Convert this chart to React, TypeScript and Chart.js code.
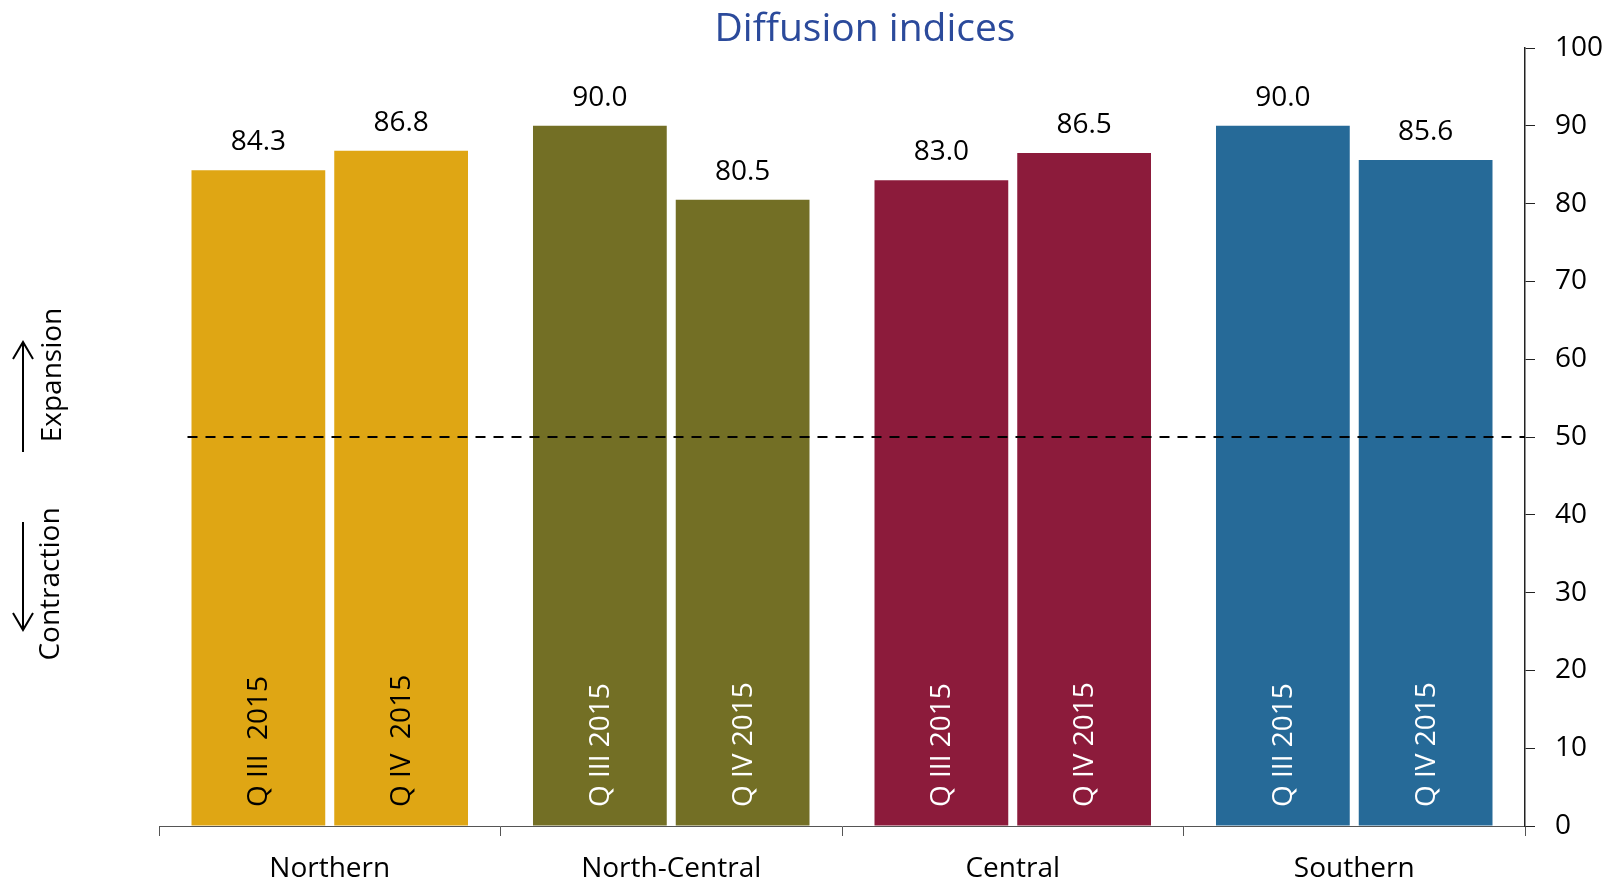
import React, { useEffect, useRef } from "react";
import { Chart, registerables } from "chart.js";

Chart.register(...registerables);

const categories = ["Northern", "North-Central", "Central", "Southern"];
const q3Values = [84.3, 90.0, 83.0, 90.0];
const q4Values = [86.8, 80.5, 86.5, 85.6];
const q3Labels = ["Q III  2015", "Q III 2015", "Q III 2015", "Q III 2015"];
const q4Labels = ["Q IV  2015", "Q IV 2015", "Q IV 2015", "Q IV 2015"];
const regionColors = ["#DFA614", "#736F25", "#8C1B3B", "#266A98"];
const innerTextColors = ["#000000", "#FFFFFF", "#FFFFFF", "#FFFFFF"];
const seriesNames = ["Q III 2015", "Q IV 2015"];
const yMin = 0;
const yMax = 100;
const yStep = 10;
const threshold = 50;
const titleText = "Diffusion indices";
const upLabel = "Expansion";
const downLabel = "Contraction";

const FONT = "'Open Sans', 'Noto Sans', sans-serif";

const annotatePlugin = {
  id: "annotate",
  afterDatasetsDraw(chart: any) {
    const ctx = chart.ctx;
    const yScale = chart.scales.y;
    const area = chart.chartArea;
    const innerLabels = [q3Labels, q4Labels];
    // threshold dashed line
    const m0 = chart.getDatasetMeta(0);
    const first = m0.data[0];
    const startX = first.x - first.width / 2 - 4;
    const yT = Math.round(yScale.getPixelForValue(threshold));
    ctx.save();
    ctx.strokeStyle = "#000";
    ctx.lineWidth = 2;
    ctx.setLineDash([10, 8]);
    ctx.beginPath();
    ctx.moveTo(startX, yT);
    ctx.lineTo(area.right, yT);
    ctx.stroke();
    ctx.restore();

    chart.data.datasets.forEach((ds: any, di: number) => {
      const meta = chart.getDatasetMeta(di);
      meta.data.forEach((bar: any, i: number) => {
        const v = ds.data[i];
        // value label
        ctx.save();
        ctx.font = `28px ${FONT}`;
        ctx.fillStyle = "#000";
        ctx.textAlign = "center";
        ctx.textBaseline = "alphabetic";
        ctx.fillText(v.toFixed(1), bar.x, bar.y - 20);
        ctx.restore();
        // inner rotated label
        ctx.save();
        ctx.translate(bar.x + 1, area.bottom - 19);
        ctx.rotate(-Math.PI / 2);
        ctx.font = `28px ${FONT}`;
        ctx.fillStyle = innerTextColors[i];
        ctx.textAlign = "left";
        ctx.textBaseline = "middle";
        ctx.fillText(innerLabels[di][i], 0, 0);
        ctx.restore();
      });
    });
  },
  afterDraw(chart: any) {
    const ctx = chart.ctx;
    ctx.save();
    // title
    ctx.font = `39px ${FONT}`;
    ctx.fillStyle = "#2B4A9B";
    ctx.textAlign = "center";
    ctx.textBaseline = "alphabetic";
    ctx.fillText(titleText, 865, 41);

    // side annotations
    ctx.fillStyle = "#000";
    ctx.font = `28px ${FONT}`;
    ctx.textAlign = "center";
    ctx.textBaseline = "middle";
    ctx.save();
    ctx.translate(53, 375);
    ctx.rotate(-Math.PI / 2);
    ctx.fillText(upLabel, 0, 0);
    ctx.restore();
    ctx.save();
    ctx.translate(51, 584);
    ctx.rotate(-Math.PI / 2);
    ctx.fillText(downLabel, 0, 0);
    ctx.restore();

    ctx.strokeStyle = "#000";
    ctx.lineWidth = 2;
    ctx.beginPath();
    ctx.moveTo(23, 452);
    ctx.lineTo(23, 342);
    ctx.moveTo(13, 359);
    ctx.lineTo(23, 342);
    ctx.lineTo(33, 359);
    ctx.moveTo(23, 522);
    ctx.lineTo(23, 630);
    ctx.moveTo(13, 613);
    ctx.lineTo(23, 630);
    ctx.lineTo(33, 613);
    ctx.stroke();
    ctx.restore();
  },
};

export default function App() {
  const ref = useRef<HTMLCanvasElement | null>(null);
  useEffect(() => {
    if (!ref.current) return;
    const chart = new Chart(ref.current, {
      type: "bar",
      data: {
        labels: categories,
        datasets: [
          {
            label: seriesNames[0],
            data: q3Values,
            backgroundColor: regionColors,
            categoryPercentage: 0.836,
            barPercentage: 0.937,
          },
          {
            label: seriesNames[1],
            data: q4Values,
            backgroundColor: regionColors,
            categoryPercentage: 0.836,
            barPercentage: 0.937,
          },
        ],
      },
      options: {
        animation: false,
        responsive: false,
        devicePixelRatio: 1,
        layout: { padding: { left: 159, top: 48, right: 0, bottom: 0 } },
        plugins: {
          legend: { display: false },
          tooltip: { enabled: false },
          title: { display: false },
        },
        scales: {
          x: {
            offset: true,
            grid: {
              offset: true,
              drawOnChartArea: false,
              drawTicks: true,
              tickLength: 10,
              tickColor: "#555",
            },
            border: { display: true, color: "#555", width: 1 },
            ticks: {
              color: "#000",
              padding: 16,
              maxRotation: 0,
              font: { family: FONT, size: 28 },
            },
            afterFit(scale: any) {
              scale.height = 54;
            },
          },
          y: {
            position: "right",
            min: yMin,
            max: yMax,
            grid: {
              drawOnChartArea: false,
              drawTicks: true,
              tickLength: 10,
              tickColor: "#222",
            },
            border: { display: true, color: "#222", width: 1.5 },
            ticks: {
              stepSize: yStep,
              color: "#000",
              padding: 20,
              font: { family: FONT, size: 28 },
            },
            afterFit(scale: any) {
              scale.width = 84;
            },
          },
        },
      },
      plugins: [annotatePlugin],
    } as any);
    return () => chart.destroy();
  }, []);
  return (
    <div style={{ position: "fixed", left: 0, top: 0, width: 1609, height: 880, background: "#fff" }}>
      <canvas ref={ref} width={1609} height={880} style={{ display: "block" }} />
    </div>
  );
}
